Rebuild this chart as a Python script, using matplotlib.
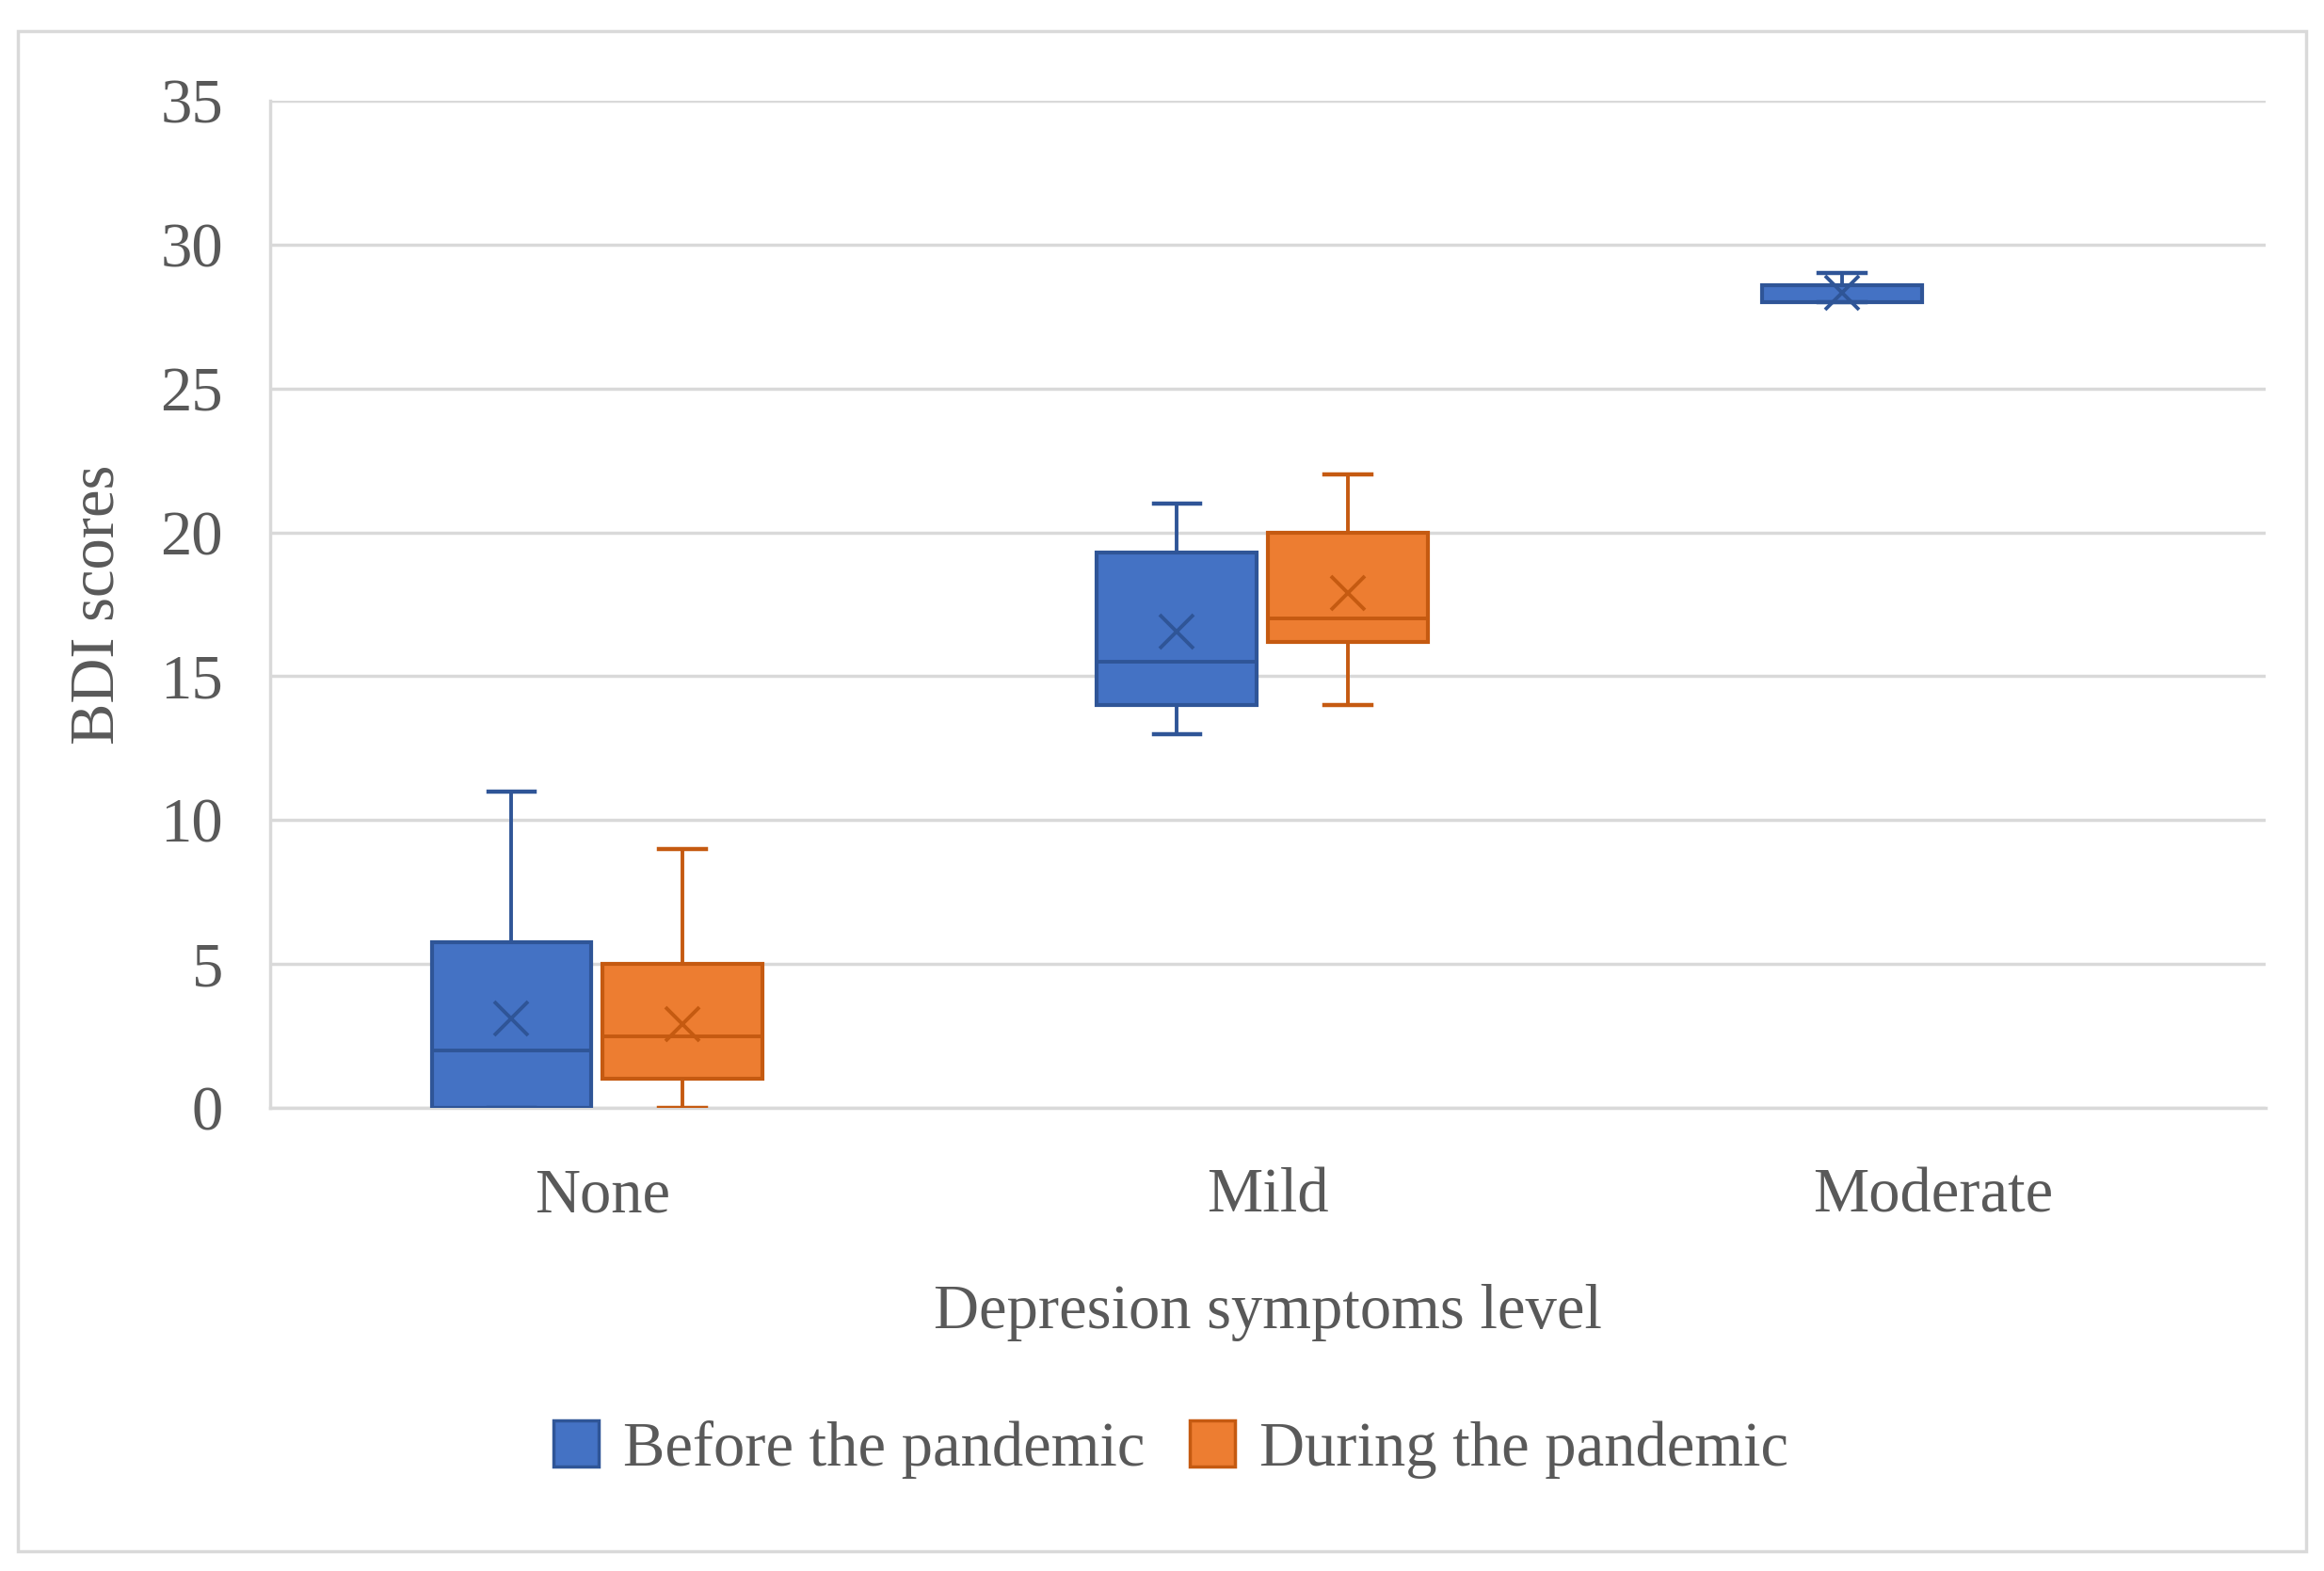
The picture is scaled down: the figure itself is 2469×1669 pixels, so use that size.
import matplotlib
matplotlib.use("Agg")
import matplotlib.pyplot as plt
from matplotlib.patches import Patch, Rectangle

# ---- data ----
categories = ["None", "Mild", "Moderate"]
series = ["Before the pandemic", "During the pandemic"]

before_whislo = [0, 13, 28]
before_q1     = [0, 14, 28]
before_med    = [2, 15.5, 28]
before_q3     = [5.75, 19.3, 28.6]
before_whishi = [11, 21, 29]
before_mean   = [3.1, 16.55, 28.33]

during_whislo = [0, 14]
during_q1     = [1, 16.2]
during_med    = [2.5, 17]
during_q3     = [5, 20]
during_whishi = [9, 22]
during_mean   = [2.9, 17.9]

yticks = [0, 5, 10, 15, 20, 25, 30, 35]

# ---- style ----
blue_f, blue_e = "#4472C4", "#2F5597"
orng_f, orng_e = "#ED7D31", "#C55A11"
txt = "#595959"
grid = "#D9D9D9"
FS = 48
plt.rcParams['font.family'] = ['Liberation Serif', 'DejaVu Serif']

fig = plt.figure(figsize=(24.69, 16.69), dpi=100)
ax = fig.add_axes([0.1162, 0.2948, 0.975 - 0.1162, 0.9359 - 0.2948])

# outer border
fig.patches.append(Rectangle((19 / 2469, 1 - 1648 / 1669), (2450 - 19) / 2469, (1648 - 33) / 1669,
                             transform=fig.transFigure, fill=False, edgecolor=grid, linewidth=2.5))

def stats(wl, q1, med, q3, wh, mean):
    return [dict(whislo=a, q1=b, med=c, q3=d, whishi=e, mean=f, fliers=[])
            for a, b, c, d, e, f in zip(wl, q1, med, q3, wh, mean)]

def draw(st, pos, fc, ec):
    ax.bxp(st, positions=pos, widths=0.24, showmeans=True, patch_artist=True,
           showfliers=False, capwidths=0.07,
           boxprops=dict(facecolor=fc, edgecolor=ec, linewidth=3),
           whiskerprops=dict(color=ec, linewidth=2.8),
           capprops=dict(color=ec, linewidth=3.2),
           medianprops=dict(color=ec, linewidth=2.8),
           meanprops=dict(marker="x", markeredgecolor=ec, markersize=26, markeredgewidth=2.8),
           zorder=3)

xb = [i - 0.137 for i in range(len(before_q1))]
xd = [i + 0.120 for i in range(len(during_q1))]
draw(stats(before_whislo, before_q1, before_med, before_q3, before_whishi, before_mean), xb, blue_f, blue_e)
draw(stats(during_whislo, during_q1, during_med, during_q3, during_whishi, during_mean), xd, orng_f, orng_e)

ax.set_xlim(-0.5, 2.5)
ax.set_ylim(0, 35)
ax.set_yticks(yticks)
ax.set_yticklabels([str(v) for v in yticks])
ax.set_xticks(range(len(categories)))
ax.set_xticklabels(categories)
ax.tick_params(axis="both", length=0, labelsize=FS, colors=txt)
ax.tick_params(axis="y", pad=36)
ax.tick_params(axis="x", pad=46)
ax.yaxis.grid(True, color=grid, linewidth=2.5, zorder=0)
ax.set_axisbelow(True)
for s in ["top", "right"]:
    ax.spines[s].set_visible(False)
for s in ["left", "bottom"]:
    ax.spines[s].set_color(grid)
    ax.spines[s].set_linewidth(2.5)

ax.set_ylabel("BDI scores", fontsize=FS, color=txt, labelpad=26)
ax.set_xlabel("Depresion symptoms level", fontsize=FS, color=txt, labelpad=45)

handles = [Patch(facecolor=blue_f, edgecolor=blue_e, linewidth=2.5),
           Patch(facecolor=orng_f, edgecolor=orng_e, linewidth=2.5)]
leg = fig.legend(handles, series, loc="center", bbox_to_anchor=(1244 / 2469, 1 - 1540 / 1669),
                 ncol=2, frameon=False, fontsize=FS, handlelength=0.72, handleheight=0.75,
                 handletextpad=0.4, columnspacing=0.7)
for t in leg.get_texts():
    t.set_color(txt)

fig.savefig("out.png", dpi=100, facecolor="white")
